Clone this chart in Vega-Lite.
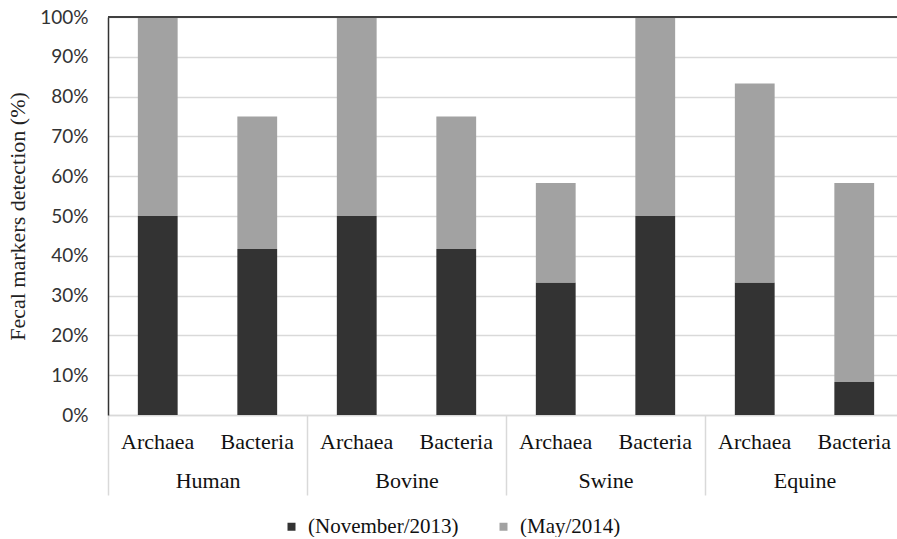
{
  "$schema": "https://vega.github.io/schema/vega-lite/v6.json",
  "width": 796,
  "height": 398,
  "padding": {"left": 6, "top": 8, "right": 0, "bottom": 0},
  "background": "white",
  "config": {"view": {"stroke": null}, "font": "Liberation Serif"},
  "data": {
    "values": [
      {"host": "Human", "type": "Archaea", "period": "(November/2013)", "value": 50},
      {"host": "Human", "type": "Archaea", "period": "(May/2014)", "value": 50},
      {"host": "Human", "type": "Bacteria", "period": "(November/2013)", "value": 41.7},
      {"host": "Human", "type": "Bacteria", "period": "(May/2014)", "value": 33.3},
      {"host": "Bovine", "type": "Archaea", "period": "(November/2013)", "value": 50},
      {"host": "Bovine", "type": "Archaea", "period": "(May/2014)", "value": 50},
      {"host": "Bovine", "type": "Bacteria", "period": "(November/2013)", "value": 41.7},
      {"host": "Bovine", "type": "Bacteria", "period": "(May/2014)", "value": 33.3},
      {"host": "Swine", "type": "Archaea", "period": "(November/2013)", "value": 33.3},
      {"host": "Swine", "type": "Archaea", "period": "(May/2014)", "value": 25},
      {"host": "Swine", "type": "Bacteria", "period": "(November/2013)", "value": 50},
      {"host": "Swine", "type": "Bacteria", "period": "(May/2014)", "value": 50},
      {"host": "Equine", "type": "Archaea", "period": "(November/2013)", "value": 33.3},
      {"host": "Equine", "type": "Archaea", "period": "(May/2014)", "value": 50},
      {"host": "Equine", "type": "Bacteria", "period": "(November/2013)", "value": 8.3},
      {"host": "Equine", "type": "Bacteria", "period": "(May/2014)", "value": 50}
    ]
  },
  "layer": [
    {
      "mark": {"type": "bar"},
      "encoding": {
        "x": {
          "field": "host", "type": "nominal",
          "sort": ["Human", "Bovine", "Swine", "Equine"],
          "scale": {"paddingInner": 0, "paddingOuter": 0},
          "axis": {
            "title": null, "labelAngle": 0, "tickBand": "extent", "tickSize": 80,
            "tickColor": "#d9d9d9", "tickWidth": 1.5, "domainColor": "#d9d9d9", "domainWidth": 1.5,
            "labelPadding": -25, "labelFont": "Liberation Serif", "labelFontSize": 22, "labelColor": "#111"
          }
        },
        "xOffset": {"field": "type", "type": "nominal", "scale": {"paddingInner": 0.6, "paddingOuter": 0.3}},
        "y": {
          "field": "value", "type": "quantitative", "stack": "zero",
          "scale": {"domain": [0, 100]},
          "axis": {
            "title": "Fecal markers detection (%)", "titleFont": "Liberation Serif", "titleFontSize": 22,
            "titleFontWeight": "normal", "titleColor": "#222", "titlePadding": 10,
            "values": [0, 10, 20, 30, 40, 50, 60, 70, 80, 90, 100], "labelOverlap": false,
            "labelExpr": "datum.value + '%'", "labelFont": "Lato", "labelFontSize": 19, "labelColor": "#333",
            "labelPadding": 20, "ticks": false, "domainColor": "#333", "domainWidth": 1.5,
            "gridColor": "#d9d9d9", "gridWidth": 1.5
          }
        },
        "color": {
          "field": "period", "type": "nominal",
          "scale": {"domain": ["(November/2013)", "(May/2014)"], "range": ["#333333", "#a2a2a2"]},
          "legend": {
            "title": null, "orient": "none", "legendX": 173, "legendY": 499, "direction": "horizontal",
            "labelFont": "Liberation Serif", "labelFontSize": 21, "labelColor": "#111",
            "symbolType": "square", "symbolSize": 64, "symbolStrokeWidth": 0,
            "columnPadding": 34, "labelOffset": 6
          }
        },
        "order": {"field": "period", "sort": "descending"}
      }
    },
    {
      "transform": [{"filter": "datum.period == '(November/2013)'"}],
      "mark": {"type": "text", "baseline": "middle", "dy": 27, "font": "Liberation Serif", "fontSize": 22, "color": "#111"},
      "encoding": {
        "x": {"field": "host", "type": "nominal", "sort": ["Human", "Bovine", "Swine", "Equine"]},
        "xOffset": {"field": "type", "type": "nominal"},
        "y": {"datum": 0, "type": "quantitative", "axis": {"values": [0, 10, 20, 30, 40, 50, 60, 70, 80, 90, 100], "labelOverlap": false}},
        "text": {"field": "type"}
      }
    },
    {
      "mark": {"type": "rule", "color": "#404040", "strokeWidth": 2},
      "encoding": {"y": {"datum": 100, "type": "quantitative", "axis": {"values": [0, 10, 20, 30, 40, 50, 60, 70, 80, 90, 100], "labelOverlap": false}}}
    }
  ]
}
